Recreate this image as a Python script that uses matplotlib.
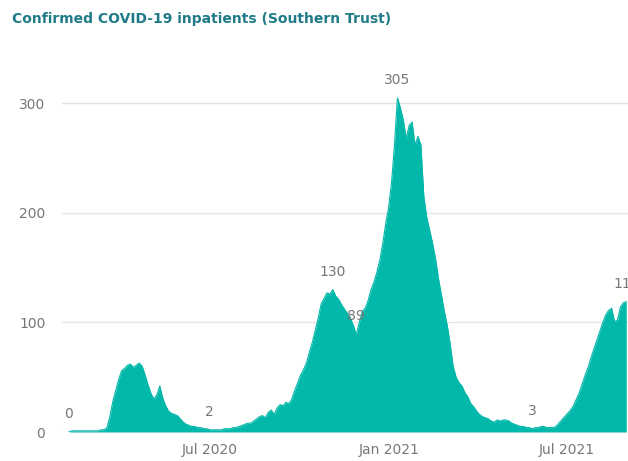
import numpy as np
import pandas as pd
import matplotlib
matplotlib.use("Agg")
import matplotlib.pyplot as plt
import matplotlib.dates as mdates

# daily inpatients, read every 3 days starting 8 Feb 2020
start_date = "2020-02-08"
inpatients = [
    0, 1, 1, 1, 1, 1, 1, 1, 1, 1, 1, 2, 2,
    4, 14, 28, 38, 48, 56, 58, 61, 62, 59, 61, 63, 60, 52, 43, 35, 30, 34, 42,
    31, 24, 19, 17, 16, 15, 12, 9, 7, 6, 5, 5, 4, 4, 3, 3,
    2, 2, 2, 2, 2, 3, 3, 3, 4, 4, 5, 6, 7, 8, 8, 10, 12, 14, 15, 13, 18, 20,
    16, 22, 25, 24, 27, 26, 30, 38, 45, 52, 57, 63, 73, 82, 93, 104, 117, 122,
    127, 126, 130, 124, 121, 116, 112, 108, 104, 97, 89, 100, 110, 113, 120,
    130, 137, 146, 157, 172, 190, 205, 228, 262, 305, 296, 285, 268, 280, 283,
    262, 270, 262, 215, 196, 184, 172, 158, 140, 125, 110, 97, 80, 60, 50, 45,
    42, 36, 32, 26, 23, 19, 16, 14, 13, 12, 10, 9, 11, 10, 11, 11, 10, 8, 7,
    6, 5, 5, 4, 4, 3, 4, 4, 5, 5, 4, 4, 4, 5, 8, 11, 14, 17, 20, 24, 30, 36,
    44, 52, 59, 68, 76, 84, 92, 100, 107, 111, 113, 101, 102, 114, 118, 119,
]
dates = pd.date_range(start_date, periods=len(inpatients), freq="3D")

# points that carry a data label: (index, text)
labelled = [(0, "0"), (48, "2"), (90, "130"), (98, "89"), (112, "305"),
            (158, "3"), (190, "119")]

yticks = [0, 100, 200, 300]
xticks = ["2020-07-01", "2021-01-01", "2021-07-01"]

teal = "#01B8AA"
grey = "#777777"

W, H = 628, 461
fig = plt.figure(figsize=(W / 100, H / 100), dpi=100)
# axes run past the right edge, the chart is cut off there
ax = fig.add_axes([62 / W, (H - 432) / H, 593.6 / W, 361.4 / H])

ax.fill_between(dates, inpatients, 0, color=teal, lw=0)
ax.plot(dates, inpatients, color=teal, lw=0.8)

ax.set_xlim(pd.Timestamp("2020-02-01"), pd.Timestamp("2021-09-30"))
ax.set_ylim(0, 330)

ax.set_yticks(yticks)
ax.set_xticks([pd.Timestamp(t) for t in xticks])
ax.xaxis.set_major_formatter(mdates.DateFormatter("%b %Y"))
ax.tick_params(axis="both", length=0, colors=grey, labelsize=10)
ax.tick_params(axis="y", pad=12)
ax.tick_params(axis="x", pad=8)

ax.grid(axis="y", color="#e4e4e4", lw=1)
ax.set_axisbelow(True)
for s in ax.spines.values():
    s.set_visible(False)

for i, txt in labelled:
    ax.annotate(txt, (dates[i], inpatients[i]), xytext=(0, 13),
                textcoords="offset points", ha="center", va="center",
                color=grey, fontsize=10, annotation_clip=False)

fig.text(12 / W, 1 - 19 / H, "Confirmed COVID-19 inpatients (Southern Trust)",
         color="#1e7b87", fontsize=10, fontweight="bold", va="center")

fig.savefig("out.png", dpi=100)
